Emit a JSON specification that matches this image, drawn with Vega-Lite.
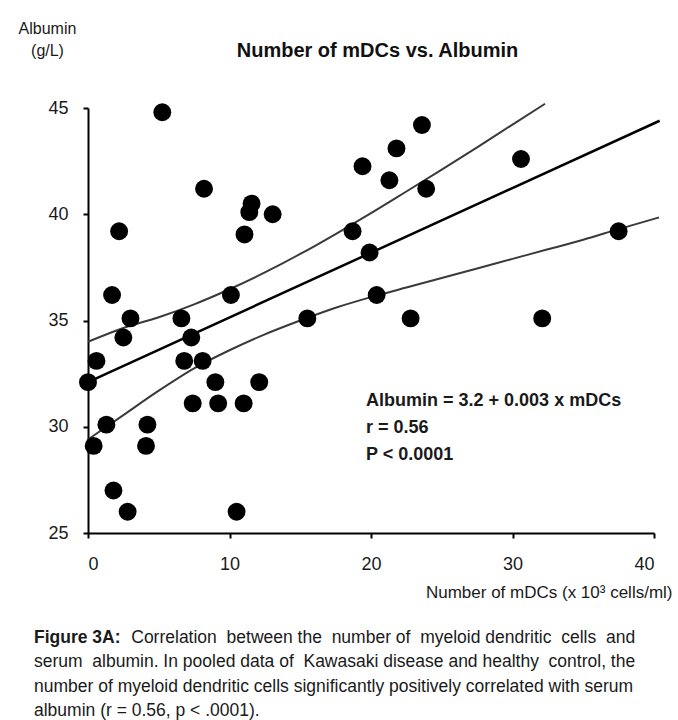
{
  "$schema": "https://vega.github.io/schema/vega-lite/v6.json",
  "width": 566,
  "height": 425,
  "autosize": {"type": "none"},
  "padding": {"left": 88, "top": 108, "right": 24, "bottom": 187},
  "background": "white",
  "config": {
    "view": {"stroke": null},
    "font": "Liberation Sans",
    "axis": {
      "domainColor": "#000000",
      "domainWidth": 2,
      "tickColor": "#000000",
      "tickWidth": 2,
      "tickSize": 5,
      "grid": false,
      "labelFont": "Liberation Sans",
      "labelFontSize": 18,
      "labelColor": "#1a1a1a",
      "titleFont": "Liberation Sans",
      "titleColor": "#1a1a1a",
      "titleFontWeight": "normal"
    }
  },
  "datasets": {
    "points": [
      {"mdc": 5.25, "alb": 44.8}, {"mdc": 2.2, "alb": 39.2}, {"mdc": 8.2, "alb": 41.2},
      {"mdc": 11.56, "alb": 40.5}, {"mdc": 11.4, "alb": 40.1}, {"mdc": 11.06, "alb": 39.05},
      {"mdc": 13.05, "alb": 40.0}, {"mdc": 19.4, "alb": 42.26}, {"mdc": 18.7, "alb": 39.2},
      {"mdc": 19.9, "alb": 38.2}, {"mdc": 20.4, "alb": 36.2}, {"mdc": 10.1, "alb": 36.2},
      {"mdc": 15.5, "alb": 35.1}, {"mdc": 1.7, "alb": 36.2}, {"mdc": 3.0, "alb": 35.1},
      {"mdc": 6.6, "alb": 35.1}, {"mdc": 2.5, "alb": 34.2}, {"mdc": 7.3, "alb": 34.2},
      {"mdc": 0.0, "alb": 32.1}, {"mdc": 0.6, "alb": 33.1}, {"mdc": 1.3, "alb": 30.1},
      {"mdc": 0.4, "alb": 29.1}, {"mdc": 1.8, "alb": 27.0}, {"mdc": 2.8, "alb": 26.0},
      {"mdc": 4.2, "alb": 30.1}, {"mdc": 4.1, "alb": 29.1}, {"mdc": 6.8, "alb": 33.1},
      {"mdc": 8.1, "alb": 33.1}, {"mdc": 9.0, "alb": 32.1}, {"mdc": 7.4, "alb": 31.1},
      {"mdc": 9.2, "alb": 31.1}, {"mdc": 11.0, "alb": 31.1}, {"mdc": 12.1, "alb": 32.1},
      {"mdc": 10.5, "alb": 26.0}, {"mdc": 23.6, "alb": 44.2}, {"mdc": 21.8, "alb": 43.1},
      {"mdc": 21.3, "alb": 41.6}, {"mdc": 23.9, "alb": 41.2}, {"mdc": 30.6, "alb": 42.6},
      {"mdc": 22.8, "alb": 35.1}, {"mdc": 32.1, "alb": 35.1}, {"mdc": 37.5, "alb": 39.2}
    ],
    "fit": [
      {"mdc": 0, "alb": 32.1}, {"mdc": 40.4, "alb": 44.4}
    ],
    "bands": [
      {"band": "upper", "mdc": 0, "alb": 34.0}, {"band": "upper", "mdc": 2.5, "alb": 34.65},
      {"band": "upper", "mdc": 5, "alb": 35.15}, {"band": "upper", "mdc": 7.5, "alb": 35.76},
      {"band": "upper", "mdc": 10, "alb": 36.47}, {"band": "upper", "mdc": 12.5, "alb": 37.26},
      {"band": "upper", "mdc": 15, "alb": 38.13}, {"band": "upper", "mdc": 17.5, "alb": 39.07},
      {"band": "upper", "mdc": 20, "alb": 40.05}, {"band": "upper", "mdc": 22.5, "alb": 41.07},
      {"band": "upper", "mdc": 25, "alb": 42.1}, {"band": "upper", "mdc": 27.5, "alb": 43.15},
      {"band": "upper", "mdc": 30, "alb": 44.22}, {"band": "upper", "mdc": 32.3, "alb": 45.2},
      {"band": "lower", "mdc": 0, "alb": 29.4}, {"band": "lower", "mdc": 2.5, "alb": 30.55},
      {"band": "lower", "mdc": 5, "alb": 31.7}, {"band": "lower", "mdc": 7.5, "alb": 32.75},
      {"band": "lower", "mdc": 10, "alb": 33.6}, {"band": "lower", "mdc": 12.5, "alb": 34.35},
      {"band": "lower", "mdc": 15, "alb": 35.0}, {"band": "lower", "mdc": 17.5, "alb": 35.6},
      {"band": "lower", "mdc": 20, "alb": 36.1}, {"band": "lower", "mdc": 22.5, "alb": 36.55},
      {"band": "lower", "mdc": 25, "alb": 37.0}, {"band": "lower", "mdc": 27.5, "alb": 37.45},
      {"band": "lower", "mdc": 30, "alb": 37.9}, {"band": "lower", "mdc": 32.5, "alb": 38.35},
      {"band": "lower", "mdc": 35, "alb": 38.8}, {"band": "lower", "mdc": 37.5, "alb": 39.3},
      {"band": "lower", "mdc": 40.35, "alb": 39.85}
    ]
  },
  "title": {
    "text": "Figure 3A:",
    "subtitle": [
      "\u200b\u00a0\u00a0\u00a0\u00a0\u00a0\u00a0\u00a0\u00a0\u00a0\u00a0\u00a0\u00a0\u00a0\u00a0\u00a0\u00a0\u00a0\u00a0\u00a0\u00a0Correlation\u00a0\u00a0between\u00a0the\u00a0\u00a0number\u00a0of\u00a0\u00a0myeloid\u00a0dendritic\u00a0\u00a0cells\u00a0\u00a0and",
      "serum\u00a0\u00a0albumin. In pooled data of\u00a0\u00a0Kawasaki disease and healthy\u00a0\u00a0control, the",
      "number of myeloid dendritic cells significantly positively correlated with serum",
      "albumin (r = 0.56, p < .0001)."
    ],
    "orient": "bottom",
    "anchor": "start",
    "frame": "group",
    "offset": 29,
    "dx": -54,
    "font": "Liberation Sans",
    "fontSize": 17.5,
    "fontWeight": "bold",
    "color": "#1a1a1a",
    "subtitleFont": "Liberation Sans",
    "subtitleFontSize": 17.5,
    "subtitleColor": "#1a1a1a",
    "subtitleLineHeight": 24.3,
    "subtitlePadding": -17.5
  },
  "layer": [
    {
      "data": {"name": "bands"},
      "mark": {"type": "line", "color": "#3a3a3a", "strokeWidth": 2, "interpolate": "monotone", "clip": false},
      "encoding": {
        "x": {"field": "mdc", "type": "quantitative", "axis": null, "scale": {"domain": [0, 40], "nice": false}},
        "y": {"field": "alb", "type": "quantitative", "scale": {"domain": [25, 45], "nice": false, "zero": false}},
        "detail": {"field": "band"}
      }
    },
    {
      "data": {"name": "fit"},
      "mark": {"type": "line", "color": "#000000", "strokeWidth": 2.5, "clip": false},
      "encoding": {
        "x": {
          "field": "mdc", "type": "quantitative",
          "axis": {
            "orient": "top",
            "title": "Number of mDCs vs. Albumin",
            "labels": false,
            "ticks": false,
            "domain": false,
            "titleFontSize": 20,
            "titleFontWeight": "bold",
            "titleColor": "#111111",
            "titleX": 289,
            "titleY": -52,
            "titleAlign": "center",
            "titleBaseline": "alphabetic"
          }
        },
        "y": {"field": "alb", "type": "quantitative"}
      }
    },
    {
      "data": {"name": "points"},
      "mark": {"type": "circle", "size": 320, "opacity": 1, "color": "#000000", "clip": false},
      "encoding": {
        "x": {
          "field": "mdc", "type": "quantitative",
          "axis": {
            "orient": "bottom",
            "values": [0, 10, 20, 30, 40],
            "labelPadding": 17,
            "title": "Number of mDCs (x 10\u00b3 cells/ml)",
            "titleFontSize": 17,
            "titleX": 584,
            "titleY": 59,
            "titleAlign": "right",
            "titleBaseline": "middle"
          }
        },
        "y": {
          "field": "alb", "type": "quantitative",
          "axis": {
            "values": [25, 30, 35, 40, 45],
            "labelPadding": 15,
            "title": ["Albumin", "(g/L)"],
            "titleFontSize": 16,
            "titleAngle": 0,
            "titleAlign": "center",
            "titleX": -41,
            "titleY": -75,
            "titleBaseline": "alphabetic",
            "titleLineHeight": 22
          }
        }
      }
    },
    {
      "data": {"values": [{}]},
      "mark": {"type": "text", "align": "left", "baseline": "alphabetic", "fontSize": 18, "fontWeight": "bold", "lineHeight": 27, "color": "#1a1a1a", "font": "Liberation Sans", "clip": false},
      "encoding": {
        "x": {"datum": 19.65, "type": "quantitative", "axis": null},
        "y": {"datum": 30.98, "type": "quantitative"},
        "text": {"value": ["Albumin = 3.2 + 0.003 x mDCs", "r = 0.56", "P < 0.0001"]}
      }
    }
  ],
  "resolve": {"axis": {"x": "independent"}}
}
